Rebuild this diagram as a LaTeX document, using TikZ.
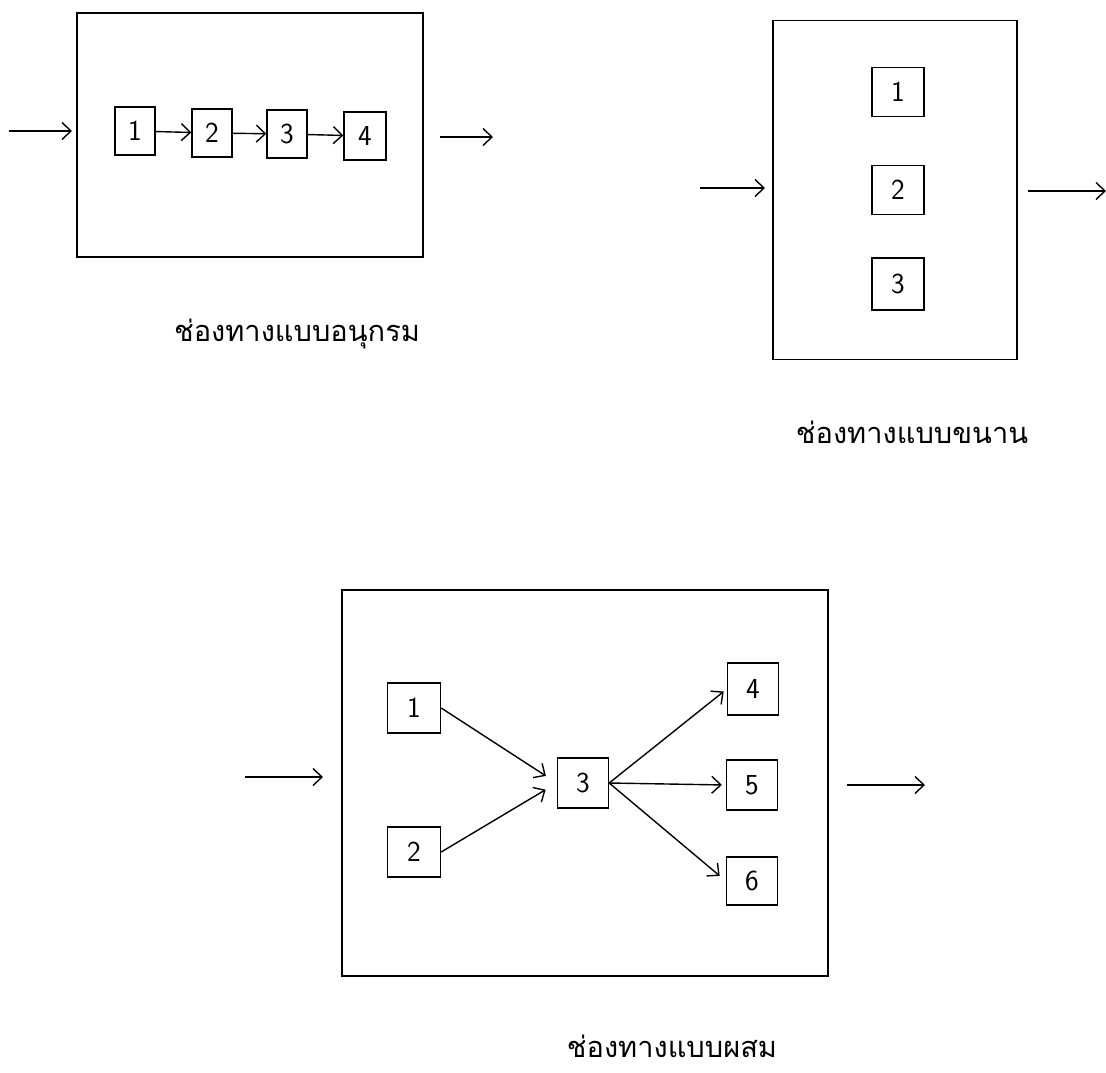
\documentclass[tikz,border=0pt]{standalone}
\usepackage{fontspec}
\newfontfamily\thaifont[Script=Thai]{Loma}
\usetikzlibrary{arrows.meta}

\tikzset{
	chan/.style = {draw, line width=1.4pt, inner sep=0pt},
	unit/.style = {draw, line width=1.4pt, inner sep=0pt, minimum width=51pt, minimum height=49pt, font=\fontsize{29}{32}\selectfont\sffamily},
	flow/.style = {-{Straight Barb[length=9pt,width=17pt,line width=1.4pt]}, line width=1.4pt},
	title/.style = {font=\fontsize{29}{34}\selectfont\thaifont}
}

\begin{document}
\begin{tikzpicture}[x=1pt, y=-1pt]
		\useasboundingbox (0,0) rectangle (1106,1072);
		
		\node[chan, minimum width=346pt, minimum height=244pt] (serial) at (250,135) {};
		\node[unit, minimum width=40pt, minimum height=48pt] (s1) at (135,131) {1};
		\node[unit, minimum width=40pt, minimum height=48pt] (s2) at (212,133) {2};
		\node[unit, minimum width=40pt, minimum height=48pt] (s3) at (287,134) {3};
		\node[unit, minimum width=42pt, minimum height=48pt] (s4) at (365,136) {4};
		\draw[flow] (s1) -- (s2);
		\draw[flow] (s2) -- (s3);
		\draw[flow] (s3) -- (s4);
		\coordinate (sin) at (9,131);
		\coordinate (sinend) at (72,131);
		\coordinate (sout) at (440,137);
		\coordinate (soutend) at (493,137);
		\draw[flow] (sin) -- (sinend);
		\draw[flow] (sout) -- (soutend);
		\node[title] (stitle) at (297,334) {ช่องทางแบบอนุกรม};
		
		\node[chan, minimum width=244pt, minimum height=339pt] (parallel) at (895,190) {};
		\node[unit, minimum width=52pt] (p1) at (898,92) {1};
		\node[unit, minimum width=52pt] (p2) at (898,190) {2};
		\node[unit, minimum width=52pt, minimum height=52pt] (p3) at (898,284) {3};
		\coordinate (pin) at (700,188);
		\coordinate (pinend) at (765,188);
		\coordinate (pout) at (1028,191);
		\coordinate (poutend) at (1106,191);
		\draw[flow] (pin) -- (pinend);
		\draw[flow] (pout) -- (poutend);
		\node[title] (ptitle) at (912,432) {ช่องทางแบบขนาน};
		
		\node[chan, minimum width=486pt, minimum height=386pt] (mixed) at (585,783) {};
		\node[unit, minimum width=53pt, minimum height=50pt] (m1) at (414,708) {1};
		\node[unit, minimum width=53pt, minimum height=50pt] (m2) at (414,852) {2};
		\node[unit, minimum height=50pt] (m3) at (583,783) {3};
		\node[unit, minimum height=52pt] (m4) at (753,689) {4};
		\node[unit, minimum height=50pt] (m5) at (752,785) {5};
		\node[unit, minimum height=48pt] (m6) at (752,881) {6};
		\draw[flow, shorten >=13pt] (m1.east) -- (m3.west);
		\draw[flow, shorten >=13pt] (m2.east) -- (m3.west);
		\draw[flow, shorten >=4pt] (m3.east) -- (m4.west);
		\draw[flow, shorten >=4pt] (m3.east) -- (m5.west);
		\draw[flow, shorten >=8pt] (m3.east) -- (m6.west);
		\coordinate (min) at (245,777);
		\coordinate (minend) at (323,777);
		\coordinate (mout) at (847,785);
		\coordinate (moutend) at (925,785);
		\draw[flow] (min) -- (minend);
		\draw[flow] (mout) -- (moutend);
		\node[title] (mtitle) at (672,1046) {ช่องทางแบบผสม};
	\end{tikzpicture}
\end{document}
